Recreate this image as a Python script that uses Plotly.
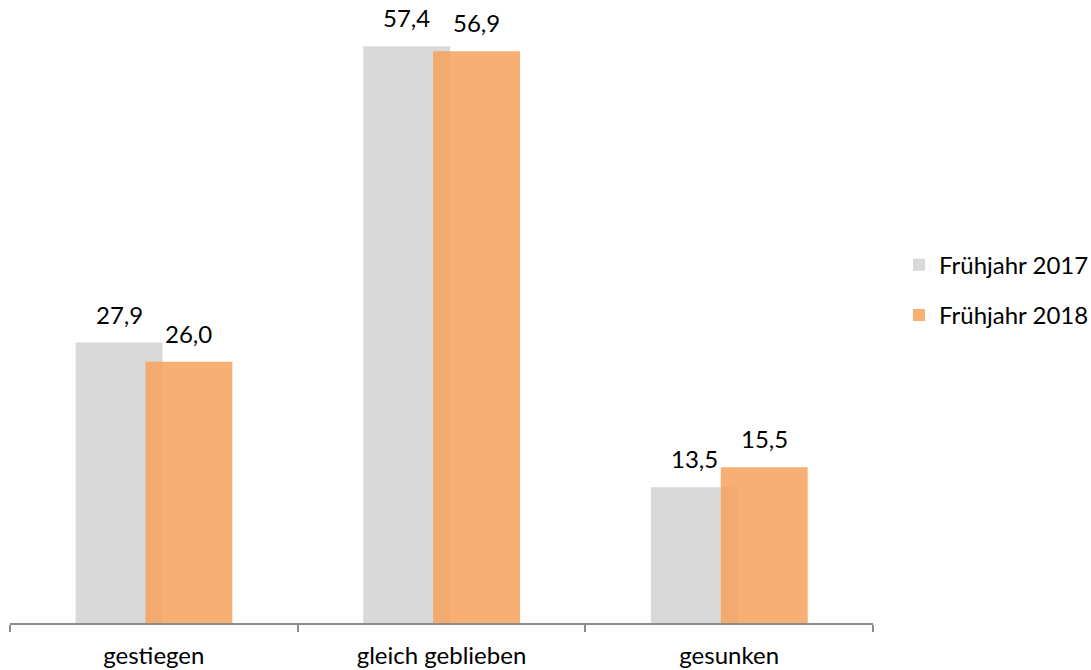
import plotly.graph_objects as go

categories = ["gestiegen", "gleich geblieben", "gesunken"]
series_names = ["Frühjahr 2017", "Frühjahr 2018"]
values_2017 = [27.9, 57.4, 13.5]
values_2018 = [26.0, 56.9, 15.5]

FONT = "Lato"
FS = 24
BAR_W = 0.302
OFFSETS = [-0.272, -0.029]
COLORS = ["rgba(217,217,217,1)", "rgba(246,161,90,0.85)"]

fig = go.Figure()
annotations = []
for k, (name, vals) in enumerate(zip(series_names, [values_2017, values_2018])):
    fig.add_trace(go.Bar(
        x=categories, y=vals, name=name,
        width=BAR_W, offset=OFFSETS[k],
        marker=dict(color=COLORS[k], line=dict(width=0)),
        legendgroup=f"g{k}",
    ))
    for i, v in enumerate(vals):
        annotations.append(dict(
            x=i + OFFSETS[k] + BAR_W / 2, y=v, xref="x", yref="y",
            text=f"{v:.1f}".replace(".", ","), showarrow=False,
            yanchor="bottom", yshift=12,
            font=dict(family=FONT, size=FS, color="#000"),
        ))

fig.update_layout(
    width=1091, height=670,
    barmode="overlay",
    paper_bgcolor="white", plot_bgcolor="white",
    margin=dict(l=10, r=218, t=20, b=47, autoexpand=False),
    font=dict(family=FONT, size=FS, color="#000"),
    showlegend=True,
    legend=dict(xref="container", yref="container",
                x=0.824, xanchor="left", y=0.567, yanchor="middle",
                traceorder="grouped", tracegroupgap=16,
                font=dict(family=FONT, size=FS, color="#000"),
                itemwidth=30),
    annotations=annotations,
)
fig.update_xaxes(
    type="category", showline=True, linecolor="#8c8c8c", linewidth=1.5,
    ticks="outside", tickson="boundaries", ticklen=7, tickcolor="#8c8c8c",
    tickwidth=1.5, automargin=False,
    showgrid=False, range=[-0.5, 2.5], ticklabelstandoff=10,
    tickfont=dict(family=FONT, size=FS, color="#000"),
)
fig.update_yaxes(visible=False, range=[0, 60], showgrid=False, zeroline=False)

fig.write_html("out.html",
               config={"displayModeBar": False},
               post_script="document.body.style.margin='0';document.body.style.overflow='hidden';")
